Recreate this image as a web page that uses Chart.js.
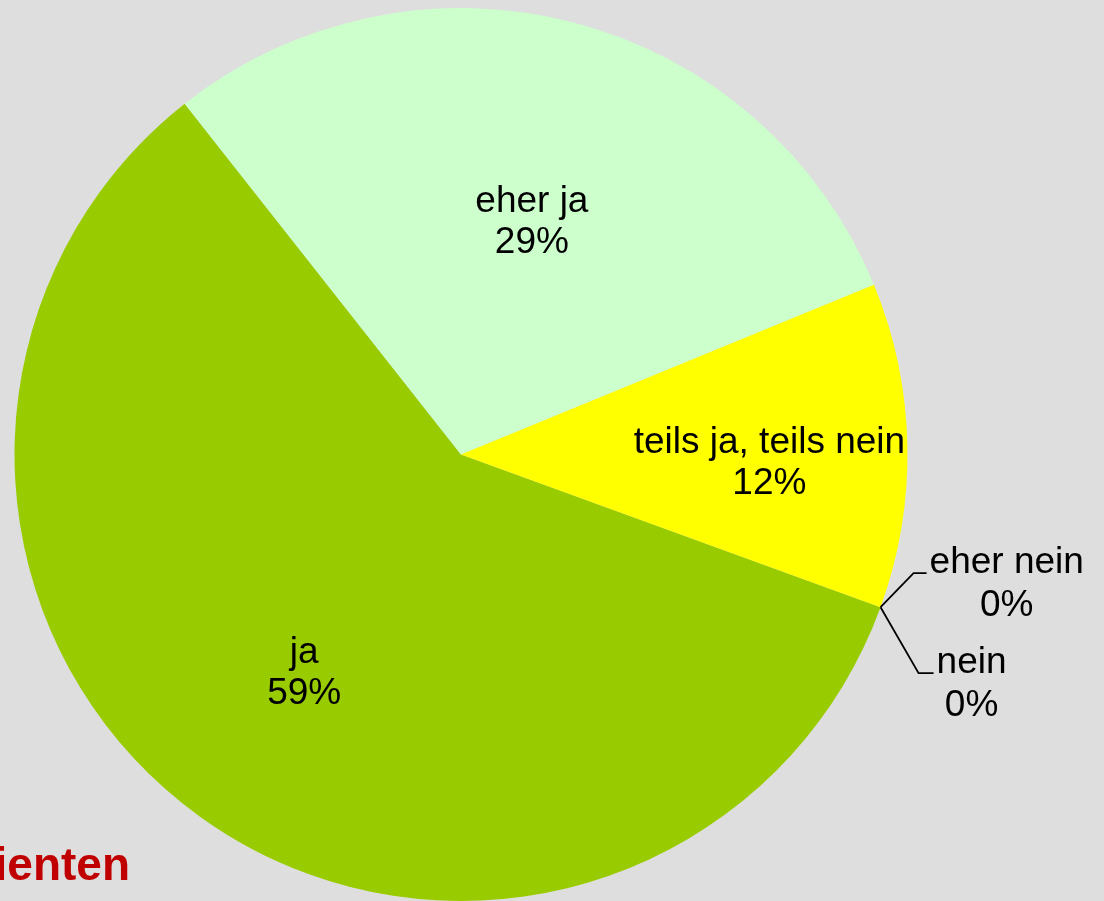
<!DOCTYPE html>
<html>
<head>
<meta charset="utf-8">
<script src="https://cdn.jsdelivr.net/npm/chart.js@4/dist/chart.umd.min.js"></script>
<style>
  html, body { margin: 0; padding: 0; background: #DEDEDE; overflow: hidden; }
  #wrap { width: 1104px; height: 901px; }
</style>
</head>
<body>
<div id="wrap"><canvas id="c" width="1104" height="901"></canvas></div>
<script>
// ---- data ----
const categories = ["ja", "eher ja", "teils ja, teils nein", "eher nein", "nein"];
const counts = [10, 5, 2, 0, 0];
const sliceColors = ["#99CC00", "#CCFFCC", "#FFFF00", "#FF9900", "#FF0000"];
const titleText = "ienten";

// ---- label placement style (polar: fraction of radius, angle shift in degrees) ----
const labelStyle = [
  { f: 0.622, shift: -1.5 },
  { f: 0.522, shift: 3.0 },
  { f: 0.692, shift: 4.7 }
];
// leader lines for zero slices: elbow and end offsets from the slice edge point
const leaderStyle = {
  3: { elbow: [33, -34], end: [46, -34] },
  4: { elbow: [38, 66], end: [53, 66] }
};

const FONT = '"Liberation Sans", Arial, Helvetica, sans-serif';
const LINE_GAP = 41;

const bgPlugin = {
  id: 'bg',
  beforeDraw(chart) {
    const ctx = chart.ctx;
    ctx.save();
    ctx.fillStyle = '#DEDEDE';
    ctx.fillRect(0, 0, chart.width, chart.height);
    ctx.font = 'bold 46px ' + FONT;
    ctx.fillStyle = '#C00000';
    ctx.textAlign = 'right';
    ctx.textBaseline = 'alphabetic';
    ctx.fillText(titleText, 130, 880);
    ctx.restore();
  }
};

const labelPlugin = {
  id: 'sliceLabels',
  afterDatasetsDraw(chart) {
    const ctx = chart.ctx;
    const meta = chart.getDatasetMeta(0);
    const data = chart.data.datasets[0].data;
    const total = data.reduce((a, b) => a + b, 0);
    ctx.save();
    ctx.font = '37px ' + FONT;
    ctx.fillStyle = '#000';
    ctx.strokeStyle = '#000';
    ctx.lineWidth = 1.8;
    ctx.textBaseline = 'alphabetic';
    ctx.textAlign = 'center';
    meta.data.forEach((arc, i) => {
      const p = arc.getProps(['x', 'y', 'startAngle', 'endAngle', 'outerRadius'], true);
      const pct = Math.round(data[i] / total * 100) + '%';
      const name = chart.data.labels[i];
      if (data[i] > 0) {
        const st = labelStyle[i];
        const mid = (p.startAngle + p.endAngle) / 2 + st.shift * Math.PI / 180;
        const ax = p.x + Math.cos(mid) * p.outerRadius * st.f;
        const ay = p.y + Math.sin(mid) * p.outerRadius * st.f;
        ctx.fillText(name, ax, ay - LINE_GAP / 2);
        ctx.fillText(pct, ax, ay + LINE_GAP / 2);
      } else {
        const ls = leaderStyle[i];
        const ex = p.x + Math.cos(p.startAngle) * p.outerRadius;
        const ey = p.y + Math.sin(p.startAngle) * p.outerRadius;
        const bx = ex + ls.elbow[0], by = ey + ls.elbow[1];
        const cx = ex + ls.end[0], cy = ey + ls.end[1];
        ctx.beginPath();
        ctx.moveTo(ex, ey);
        ctx.lineTo(bx, by);
        ctx.lineTo(cx, cy);
        ctx.stroke();
        const tx = cx + 3 + ctx.measureText(name).width / 2;
        ctx.fillText(name, tx, cy);
        ctx.fillText(pct, tx, cy + LINE_GAP + 2);
      }
    });
    ctx.restore();
  }
};

new Chart(document.getElementById('c'), {
  type: 'pie',
  data: {
    labels: categories,
    datasets: [{
      data: counts,
      backgroundColor: sliceColors,
      borderWidth: 0
    }]
  },
  options: {
    responsive: false,
    animation: false,
    rotation: 110,
    layout: { padding: { left: 14, top: 8, right: 196, bottom: 0 } },
    plugins: {
      legend: { display: false },
      tooltip: { enabled: false },
      title: { display: false }
    }
  },
  plugins: [bgPlugin, labelPlugin]
});
</script>
</body>
</html>
